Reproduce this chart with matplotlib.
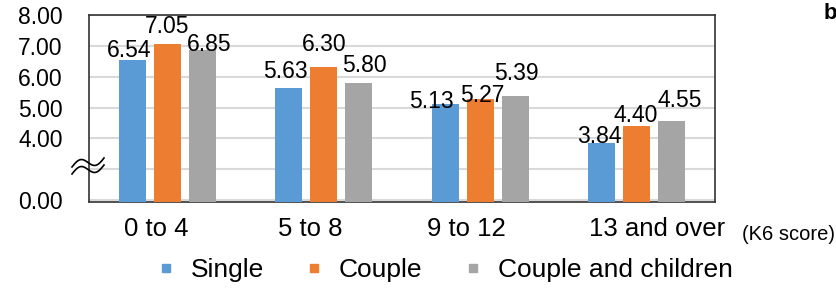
import numpy as np
import matplotlib.pyplot as plt
import matplotlib.transforms as mtransforms
from matplotlib.lines import Line2D

plt.rcParams['font.family'] = ['Liberation Sans', 'DejaVu Sans']

# data
groups = ['0 to 4', '5 to 8', '9 to 12', '13 and over']
series = ['Single', 'Couple', 'Couple and children']
single = [6.54, 5.63, 5.13, 3.84]
couple = [7.05, 6.30, 5.27, 4.40]
couple_children = [6.85, 5.80, 5.39, 4.55]
ytick_vals = [2, 3, 4, 5, 6, 7, 8]
ytick_labels = ['0.00', '', '4.00', '5.00', '6.00', '7.00', '8.00']

colors = ['#5B9BD5', '#ED7D31', '#A5A5A5']
# label nudges in pixels (dx, dy), like the excel layout
nudges = [
    [(-3, 3), (-3, 10), (-14, -4), (-2, 0)],
    [(0, 11), (0, 16), (2, -3), (-1, 4)],
    [(7, -1), (6, 11), (1, 16), (8, 14)],
]
xlabel_shift = [-11, -13, -14, 20]  # px

fig = plt.figure(figsize=(8.36, 2.88), dpi=100)
ax = fig.add_axes([89/836, 1-202/288, (715-89)/836, (202-15)/288])

x = np.arange(len(groups))
w = 0.173
step = 0.224
for i, (vals, c) in enumerate(zip([single, couple, couple_children], colors)):
    pos = x + (i - 1) * step
    ax.bar(pos, vals, width=w, color=c, zorder=3)
    for j, (p, v) in enumerate(zip(pos, vals)):
        dx, dy = nudges[i][j]
        ax.annotate('%.2f' % v, (p, v), xytext=(dx, dy), textcoords='offset pixels',
                    ha='center', va='baseline', fontsize=16.5, zorder=4)

ax.set_xlim(-0.5, 3.5)
ax.set_ylim(1.94, 8)
ax.set_yticks(ytick_vals)
ax.set_yticklabels(ytick_labels, fontsize=16.5)
ax.set_xticks(x)
ax.set_xticklabels(groups, fontsize=18.5)
ax.tick_params(length=0)
ax.tick_params(axis='y', pad=19)
ax.tick_params(axis='x', pad=11)
for lab, s in zip(ax.get_xticklabels(), xlabel_shift):
    lab.set_transform(lab.get_transform() + mtransforms.ScaledTranslation(s/100, 0, fig.dpi_scale_trans))
ax.grid(axis='y', color='#d9d9d9', linewidth=1.5, zorder=0)
for s in ax.spines.values():
    s.set_color('#333333')
    s.set_linewidth(1.2)

# axis break mark
t = np.linspace(0, 1, 60)
bx = 72 + 32 * t
for off in (0, 7):
    by = 288 - (167 - 9 * t - 5 * np.sin(2 * np.pi * t) + off)
    ax.plot(bx / 836, by / 288, color='black', lw=1.2, transform=fig.transFigure,
            clip_on=False, zorder=5)

fig.text(835/836, 1 - 234/288, '(K6 score)', fontsize=14.5, va='center', ha='right')
fig.text(824/836, 1 - 3/288, 'b', fontsize=16, fontweight='bold', va='top', ha='left')

handles = [Line2D([], [], marker='s', linestyle='', color=c, markersize=5.8) for c in colors]
fig.legend(handles, series, loc='center left', bbox_to_anchor=(159/836, 1 - 270/288), ncol=3,
           frameon=False, fontsize=19, handletextpad=0.7, columnspacing=1.65,
           handlelength=0.5, borderpad=0, borderaxespad=0)

fig.savefig('out.png', dpi=100)
